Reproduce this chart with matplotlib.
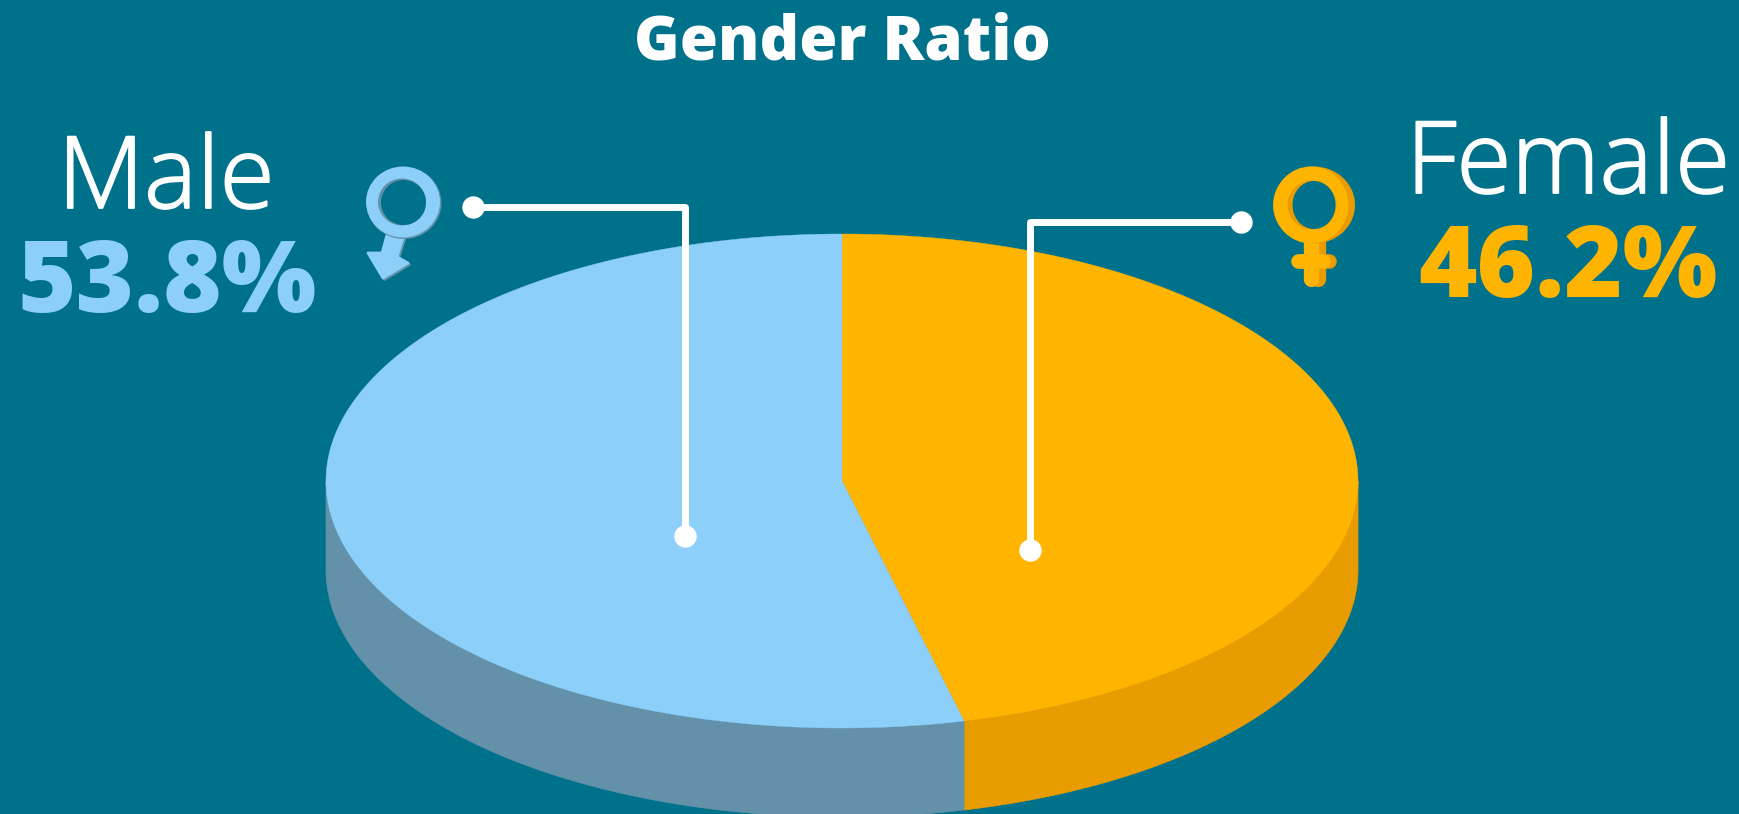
import numpy as np
import matplotlib
matplotlib.use('Agg')
import matplotlib.pyplot as plt
import matplotlib.patheffects as pe
from matplotlib.patches import Polygon, Ellipse

# data
labels = ['Male', 'Female']
values = [53.8, 46.2]
value_labels = ['53.8%', '46.2%']
title = 'Gender Ratio'

# colours
bg = '#00718B'
blue = '#8CCFF9'
blue_side = '#6391AA'
orange = '#FFB400'
orange_side = '#E89C00'

# pie geometry in pixels
cx, cy = 842, 481
rx, ry = 516, 247
depth = 89

plt.rcParams['font.family'] = ['Open Sans', 'DejaVu Sans']

fig = plt.figure(figsize=(17.4, 8.14), dpi=100, facecolor=bg)
ax = fig.add_axes([0, 0, 1, 1])
ax.set_xlim(0, 1740)
ax.set_ylim(814, 0)
ax.axis('off')


def rim(a, b):
    # angles clockwise from the top of the ellipse
    t = np.radians(np.linspace(a, b, 300))
    return np.column_stack([cx + rx * np.sin(t), cy - ry * np.cos(t)])


# split angle comes from the values, female runs clockwise from the top
split = 360 * values[1] / sum(values)

# sides first
for a, b, col in [(90, split, orange_side), (split, 270, blue_side)]:
    top = rim(a, b)
    low = top[::-1] + [0, depth]
    ax.add_patch(Polygon(np.vstack([top, low]), closed=True, fc=col, ec=col, lw=0.5))

# top faces
for a, b, col in [(0, split, orange), (split, 360, blue)]:
    ax.add_patch(Polygon(np.vstack([[[cx, cy]], rim(a, b)]), closed=True, fc=col, ec=col, lw=0.3))

# connectors
line = dict(color='white', lw=5, solid_joinstyle='round', solid_capstyle='round', zorder=5)
ax.plot([473, 685, 685], [207, 207, 536], **line)
ax.plot([1241, 1030, 1030], [222, 222, 550], **line)
dots_x = [473, 685, 1241, 1030]
dots_y = [207, 536, 222, 550]
ax.scatter(dots_x, dots_y, s=260, color='white', linewidths=0, zorder=6)

# male symbol
stem = [(387, 235), (403, 238), (397, 257), (408, 263), (383, 278), (368, 253), (382, 253)]
shadow = [(x + 1.5, y + 1.5) for x, y in stem]
ax.add_patch(Polygon(shadow, closed=True, fc=blue_side, ec=blue_side, lw=2, joinstyle='round'))
ax.add_patch(Polygon(stem, closed=True, fc=blue, ec=blue, lw=2, joinstyle='round'))
ax.add_patch(Ellipse((404, 203), 75, 72, fc=blue_side, ec='none'))
ax.add_patch(Ellipse((403, 202), 74, 71, fc=blue, ec='none'))
ax.add_patch(Ellipse((402, 202), 48, 47, fc=blue_side, ec='none'))
ax.add_patch(Ellipse((403.5, 202.5), 45, 45, fc=bg, ec='none'))

# female symbol, the ring has to sit above the stem
thick = dict(solid_capstyle='round', zorder=3)
ring = dict(ec='none', zorder=4)
ax.plot([1318, 1318], [240, 279], color=orange_side, lw=11, **thick)
ax.plot([1300, 1329], [261, 261], color=orange_side, lw=10.5, **thick)
ax.plot([1311, 1311], [240, 279], color=orange, lw=11, **thick)
ax.plot([1298, 1323], [261, 261], color=orange, lw=10.5, **thick)
ax.add_patch(Ellipse((1314, 205), 82, 77, fc=orange_side, **ring))
ax.add_patch(Ellipse((1311, 205), 75, 77, fc=orange, **ring))
ax.add_patch(Ellipse((1312, 205), 49, 49, fc=orange_side, **ring))
ax.add_patch(Ellipse((1314, 205), 43, 48, fc=bg, **ring))

# text, light labels get a thin stroke to reach the weight of the original
heavier = [pe.withStroke(linewidth=1.3, foreground='white')]
ax.text(842, 60, title, color='white', fontsize=44.5, fontweight='black', ha='center', va='baseline')
ax.text(166, 208, labels[0], color='white', fontsize=72, fontweight='light', ha='center', va='baseline', path_effects=heavier)
ax.text(1568, 193, labels[1], color='white', fontsize=72, fontweight='light', ha='center', va='baseline', path_effects=heavier)
ax.text(167, 312, value_labels[0], color=blue, fontsize=72, fontweight='black', ha='center', va='baseline')
ax.text(1568, 297, value_labels[1], color=orange, fontsize=72, fontweight='black', ha='center', va='baseline')

fig.savefig('out.png', dpi=100, facecolor=bg)
